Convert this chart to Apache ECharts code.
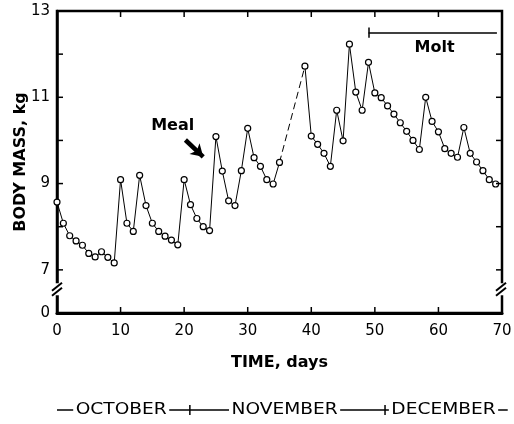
<!DOCTYPE html>
<html>
<head>
<meta charset="utf-8">
<script src="https://cdn.jsdelivr.net/npm/echarts@6/dist/echarts.min.js"></script>
<style>
  html, body { margin: 0; padding: 0; background: #fff; }
  #chart { width: 514px; height: 424px; }
</style>
</head>
<body>
<div id="chart"></div>
<script>
// days 36-38 were not weighed (dashed segment)
const days = []
for (let d = 0; d < 70; d++) days.push(d)
const mass = [
  8.57, 8.08, 7.79, 7.67, 7.57, 7.38, 7.30, 7.42, 7.29, 7.16,
  9.09, 8.08, 7.89, 9.19, 8.49, 8.08, 7.89, 7.78, 7.69, 7.58,
  9.09, 8.51, 8.19, 8.00, 7.91, 10.09, 9.29, 8.60, 8.49, 9.30,
  10.28, 9.60, 9.40, 9.09, 8.99, 9.49, null, null, null, 11.72,
  10.10, 9.91, 9.70, 9.40, 10.70, 9.99, 12.23, 11.12, 10.70, 11.81,
  11.10, 10.99, 10.80, 10.61, 10.41, 10.21, 10.00, 9.79, 11.00, 10.44,
  10.20, 9.81, 9.70, 9.61, 10.30, 9.70, 9.50, 9.30, 9.09, 8.99,
]
const gapDays = [35, 39]
const yLabels = { 6: '0', 7: '7', 9: '9', 11: '11', 13: '13' }
const xTickDays = [10, 20, 30, 40, 50, 60]
const yTickMass = [7, 8, 9, 10, 11, 12]
const moltSpan = [49, 69.2]
const moltLevel = 12.5
const months = [
  { name: 'OCTOBER', center: 10.1 },
  { name: 'NOVEMBER', center: 35.8 },
  { name: 'DECEMBER', center: 60.8 },
]
const monthBounds = [20.9, 51.6]

const font = 'DejaVu Sans'
const chart = echarts.init(document.getElementById('chart'))

const solidData = days.map((d, i) => [d, mass[i] == null ? '-' : mass[i]])
const dashData = gapDays.map((d) => [d, mass[days.indexOf(d)]])

let option = {
  animation: false,
  backgroundColor: '#fff',
  grid: {
    left: 57,
    right: 12,
    top: 11,
    bottom: 111,
    containLabel: false,
    outerBoundsMode: 'none',
    show: true,
    borderColor: '#000',
    borderWidth: 2.5,
  },
  xAxis: {
    type: 'value',
    min: 0,
    max: 70,
    interval: 10,
    name: 'TIME, days',
    nameLocation: 'middle',
    nameGap: 42,
    nameMoveOverlap: false,
    nameTextStyle: { fontFamily: font, fontWeight: 'bold', fontSize: 16, color: '#000' },
    axisLine: { show: true, lineStyle: { color: '#000', width: 3 } },
    axisTick: { show: false },
    axisLabel: { margin: 11, fontFamily: font, fontSize: 15, color: '#000' },
    splitLine: { show: false },
  },
  yAxis: {
    type: 'value',
    min: 6,
    max: 13,
    interval: 1,
    name: 'BODY MASS, kg',
    nameLocation: 'middle',
    nameGap: 28,
    nameMoveOverlap: false,
    nameTextStyle: { fontFamily: font, fontWeight: 'bold', fontSize: 16, color: '#000' },
    axisLine: { show: true, lineStyle: { color: '#000', width: 2.5 } },
    axisTick: { show: false },
    axisLabel: {
      margin: 7,
      fontFamily: font,
      fontSize: 15,
      color: '#000',
      formatter: (v) => yLabels[v] || '',
    },
    splitLine: { show: false },
  },
  series: [
    {
      name: 'gap',
      type: 'line',
      data: dashData,
      symbol: 'none',
      lineStyle: { color: '#000', width: 1, type: [7, 4] },
      z: 2,
      markLine: {
        silent: true,
        symbol: 'none',
        label: { show: false },
        lineStyle: { color: '#000', width: 1.5, type: 'solid' },
        data: [
          [{ coord: [moltSpan[0], moltLevel] }, { coord: [moltSpan[1], moltLevel] }],
          [{ coord: [moltSpan[0], moltLevel - 0.12] }, { coord: [moltSpan[0], moltLevel + 0.12] }],
          [
            { coord: [20.2, 10.01], symbol: 'none', lineStyle: { width: 4.5, curveness: -0.25 } },
            { coord: [23.0, 9.62], symbol: 'arrow', symbolSize: [11, 12] },
          ],
        ],
      },
    },
    {
      name: 'mass',
      type: 'line',
      data: solidData,
      connectNulls: false,
      symbol: 'circle',
      symbolSize: 6,
      itemStyle: { color: '#fff', borderColor: '#000', borderWidth: 1.2 },
      lineStyle: { color: '#000', width: 1 },
      z: 3,
    },
  ],
}
chart.setOption(option)

// annotations placed through the axes
const px = (d, v) => chart.convertToPixel({ gridIndex: 0 }, [d, v])
const graphic = []
const tickLen = 6

// inward ticks on all four sides of the frame
xTickDays.forEach((d) => {
  const b = px(d, 6)
  const t = px(d, 13)
  graphic.push({ type: 'line', shape: { x1: b[0], y1: b[1], x2: b[0], y2: b[1] - tickLen }, style: { stroke: '#000', lineWidth: 1.5 }, z: 30 })
  graphic.push({ type: 'line', shape: { x1: t[0], y1: t[1], x2: t[0], y2: t[1] + tickLen }, style: { stroke: '#000', lineWidth: 1.5 }, z: 30 })
})
yTickMass.forEach((v) => {
  const l = px(0, v)
  const r = px(70, v)
  graphic.push({ type: 'line', shape: { x1: l[0], y1: l[1], x2: l[0] + tickLen, y2: l[1] }, style: { stroke: '#000', lineWidth: 1.5 }, z: 30 })
  graphic.push({ type: 'line', shape: { x1: r[0], y1: r[1], x2: r[0] - tickLen, y2: r[1] }, style: { stroke: '#000', lineWidth: 1.5 }, z: 30 })
})

function breakMark(x, y) {
  graphic.push({ type: 'rect', shape: { x: x - 6, y: y - 6, width: 12, height: 12 }, style: { fill: '#fff' }, z: 50 })
  ;[-2.5, 2.5].forEach((o) => {
    graphic.push({
      type: 'line',
      shape: { x1: x - 5, y1: y + o + 4, x2: x + 5, y2: y + o - 4 },
      style: { stroke: '#000', lineWidth: 2 },
      z: 51,
    })
  })
}
const bl = px(0, 6.55)
const br = px(70, 6.55)
breakMark(bl[0], bl[1])
breakMark(br[0] - 1, br[1])

const meal = px(18.2, 10.34)
graphic.push({
  type: 'text',
  x: meal[0],
  y: meal[1],
  style: { text: 'Meal', fontFamily: font, fontWeight: 'bold', fontSize: 16, fill: '#000', align: 'center', verticalAlign: 'middle' },
  z: 60,
})
const molt = px(59.4, 12.15)
graphic.push({
  type: 'text',
  x: molt[0],
  y: molt[1],
  style: { text: 'Molt', fontFamily: font, fontWeight: 'bold', fontSize: 16, fill: '#000', align: 'center', verticalAlign: 'middle' },
  z: 60,
})

// month strip under the axis
const stripY = 410
const s0 = px(0, 6)[0]
const s1 = px(70.9, 6)[0]
graphic.push({ type: 'line', shape: { x1: s0, y1: stripY, x2: s1, y2: stripY }, style: { stroke: '#000', lineWidth: 1.5 }, z: 40 })
monthBounds.forEach((d) => {
  const x = px(d, 6)[0]
  graphic.push({ type: 'line', shape: { x1: x, y1: stripY - 5, x2: x, y2: stripY + 5 }, style: { stroke: '#000', lineWidth: 1.5 }, z: 41 })
})
months.forEach((m) => {
  const x = px(m.center, 6)[0]
  graphic.push({
    type: 'text',
    x: x,
    y: stripY,
    scaleX: 1.24,
    style: {
      text: m.name,
      fontFamily: font,
      fontSize: 15,
      fill: '#000',
      align: 'center',
      verticalAlign: 'middle',
      backgroundColor: '#fff',
      padding: [0, 2],
    },
    z: 45,
  })
})

chart.setOption({ graphic: graphic })
</script>
</body>
</html>
